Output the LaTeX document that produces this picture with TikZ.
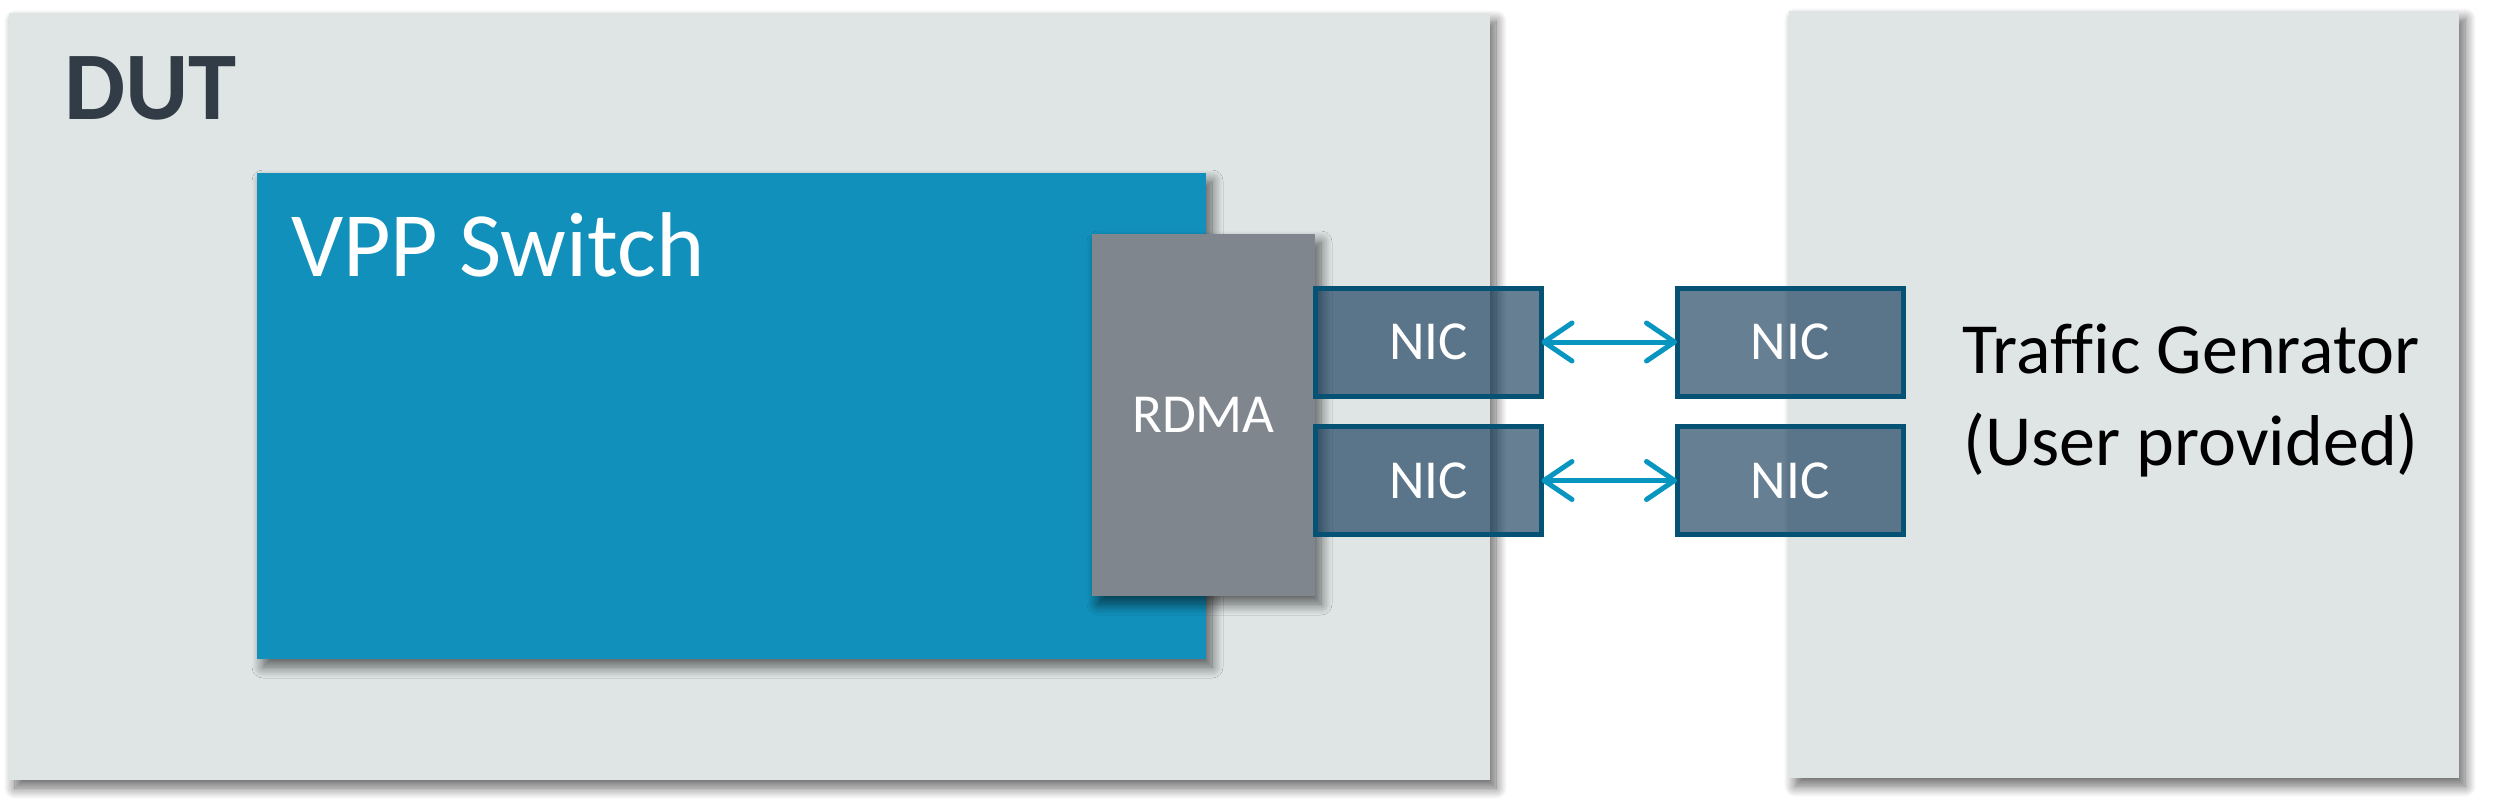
\documentclass[tikz,border=0pt]{standalone}
\usepackage{fontspec}
\setmainfont{Carlito}[Ligatures=CommonOff]
\usetikzlibrary{arrows.meta,shadows.blur}
\definecolor{dutbg}{RGB}{223,229,229}
\definecolor{vppblue}{RGB}{17,144,187}
\definecolor{rdmagray}{RGB}{127,134,142}
\definecolor{nicfill}{RGB}{10,50,82}
\definecolor{nicborder}{RGB}{6,82,117}
\definecolor{duttext}{RGB}{50,60,70}
\definecolor{arrowblue}{RGB}{8,150,192}
\tikzset{
  panel/.style={rectangle, inner sep=0pt, outer sep=0pt, draw=none,
    blur shadow={shadow xshift=6pt, shadow yshift=-8pt, shadow blur radius=11pt, shadow blur steps=12, shadow opacity=60}},
  nicbox/.style={rectangle, inner sep=0pt, outer sep=0pt, fill=nicfill, fill opacity=0.625,
    draw=nicborder, draw opacity=1, text opacity=1, line width=5pt,
    minimum width=226pt, minimum height=108pt, text=white, font=\fontsize{55}{60}\selectfont},
  link/.style={draw=arrowblue, line width=5pt, line cap=round,
    {Straight Barb[length=28pt,width=38pt,round]}-{Straight Barb[length=28pt,width=38pt,round]}},
  lbl/.style={inner sep=0pt, outer sep=0pt}
}
\begin{document}
\begin{tikzpicture}[x=1pt,y=-1pt]
\useasboundingbox (0,0) rectangle (2498,809);
% DUT
\node[panel, fill=dutbg, minimum width=1481pt, minimum height=767pt] (dut) at (749.5,396.5) {};
% Traffic generator
\node[panel, fill=dutbg, minimum width=670pt, minimum height=767pt] (tg) at (2124,394.5) {};
% VPP switch
\node[panel, fill=vppblue, minimum width=949pt, minimum height=486pt] (vpp) at (731.5,416) {};
% RDMA
\node[panel, fill=rdmagray, minimum width=223pt, minimum height=362pt, text=white,
  font=\fontsize{55}{60}\selectfont] (rdma) at (1203.5,415) {RDMA};
% NICs
\node[nicbox] (nic1) at (1428.5,342) {NIC};
\node[nicbox] (nic2) at (1428.5,480.5) {NIC};
\node[nicbox] (nic3) at (1790,342) {NIC};
\node[nicbox] (nic4) at (1790,480.5) {NIC};
% links
\draw[link] (nic1.east) -- (nic3.west);
\draw[link] (nic2.east) -- (nic4.west);
% labels
\node[lbl, anchor=base west, text=duttext, font=\fontsize{97}{100}\selectfont\bfseries] (dutlabel) at (64,119) {DUT};
\node[lbl, anchor=base west, text=white, font=\fontsize{92}{100}\selectfont] (vpplabel) at (291,276) {VPP Switch};
\node[lbl, align=center, text=black, font=\fontsize{72}{92}\selectfont] (tglabel) at (2191,401) {Traffic Genrator\\(User provided)};
\end{tikzpicture}
\end{document}
